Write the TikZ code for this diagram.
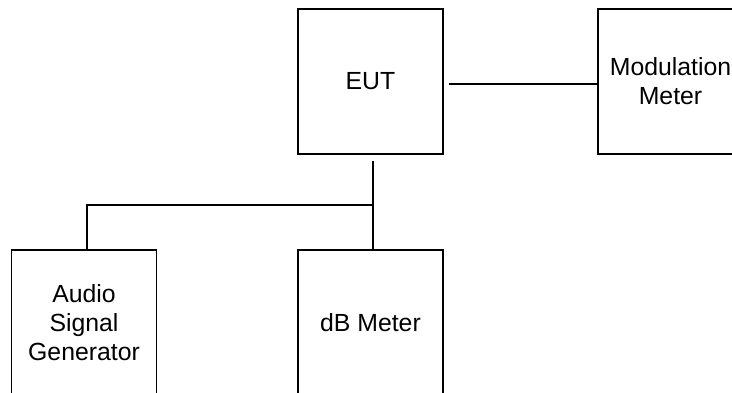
\documentclass[tikz,border=0pt]{standalone}
\usepackage{fontspec}
\setmainfont{Liberation Sans}
\begin{document}
\begin{tikzpicture}[x=1pt,y=-1pt,
  box/.style={draw, line width=1.3pt, minimum width=145pt, minimum height=145pt, inner sep=0pt,
    align=center, font=\fontsize{24.8}{29}\selectfont},
  wire/.style={line width=1.3pt}]
\useasboundingbox (0,0) rectangle (732,392);
\fill[white] (0,0) rectangle (732,392);
\clip (0,0) rectangle (732,392);
\node[box] (eut) at (370.5,81.5) {EUT};
\node[box] (mod) at (670.5,81.5) {Modulation\\Meter};
\node[box] (asg) at (84,322.5) {Audio\\Signal\\Generator};
\node[box] (dbm) at (370.5,322.5) {dB Meter};
\coordinate (j) at (373,205);
\draw[wire] ([xshift=5pt,yshift=-2.5pt]eut.east) -- ([yshift=-2.5pt]mod.west);
\draw[wire] ([yshift=-6pt]eut.south -| j) -- (j) -- (j |- dbm.north);
\draw[wire] (j) -| ([xshift=3pt]asg.north);
\end{tikzpicture}
\end{document}
